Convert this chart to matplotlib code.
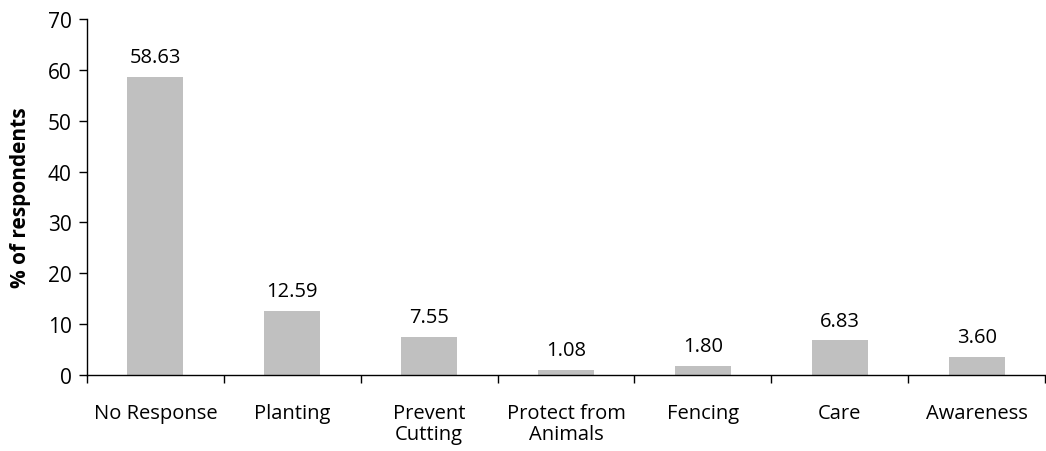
import matplotlib
matplotlib.use("Agg")
import matplotlib.pyplot as plt
from matplotlib.ticker import FixedLocator, NullFormatter
import numpy as np

categories = ["No Response", "Planting", "Prevent\nCutting", "Protect from\nAnimals",
              "Fencing", "Care", "Awareness"]
values = [58.63, 12.59, 7.55, 1.08, 1.80, 6.83, 3.60]
y_ticks = [0, 10, 20, 30, 40, 50, 60, 70]

plt.rcParams['font.family'] = ['Open Sans', 'DejaVu Sans']

fig = plt.figure(figsize=(10.46, 4.52), dpi=100)
ax = fig.add_axes([87 / 1046, 1 - 376 / 452, (1045 - 87) / 1046, (376 - 20) / 452])

x = np.arange(len(categories))
ax.bar(x, values, width=0.41, color="#c0c0c0", edgecolor="none", zorder=2)

for xi, v in zip(x, values):
    ax.annotate(f"{v:.2f}", (xi, v), xytext=(0, 7), textcoords="offset points",
                ha="center", va="bottom", fontsize=14.5, color="black")

ax.set_xlim(-0.5, len(categories) - 0.5)
ax.set_ylim(0, 70)
ax.set_yticks(y_ticks)
ax.tick_params(axis="y", direction="out", length=6, width=1, labelsize=15, pad=5)

# category labels centered, tick marks on category boundaries
ax.set_xticks(x)
ax.set_xticklabels(categories, fontsize=14.5, linespacing=1.08)
ax.tick_params(axis="x", which="major", length=0, pad=20)
ax.xaxis.set_minor_locator(FixedLocator(np.arange(-0.5, len(categories), 1.0)))
ax.xaxis.set_minor_formatter(NullFormatter())
ax.tick_params(axis="x", which="minor", direction="out", length=6, width=1)
for lbl in ax.get_xticklabels():
    lbl.set_verticalalignment("top")

for side in ("top", "right"):
    ax.spines[side].set_visible(False)
for side in ("left", "bottom"):
    ax.spines[side].set_linewidth(1.0)
    ax.spines[side].set_color("black")

ax.set_ylabel("% of respondents", fontsize=15, fontweight="bold", labelpad=12)

fig.savefig("out.png", dpi=100)
